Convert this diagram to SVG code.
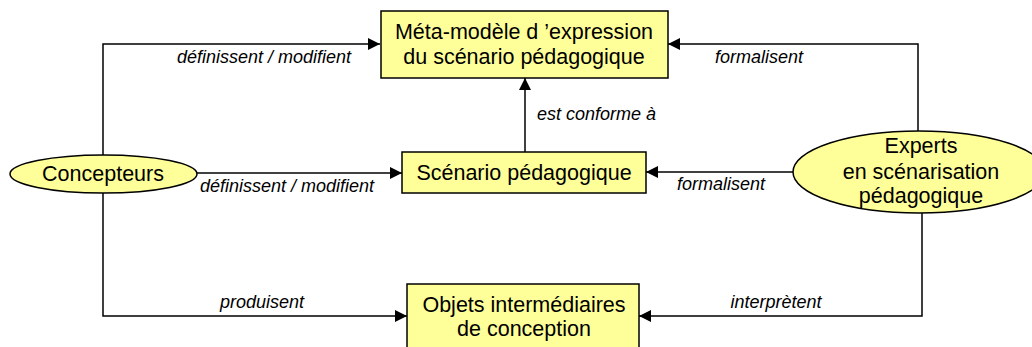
<svg xmlns="http://www.w3.org/2000/svg" width="1032" height="347" viewBox="0 0 1032 347">
<style>
.node{fill:#FFFF99;stroke:#000;stroke-width:1.5}
.t{font-family:"Liberation Sans",Arial,sans-serif;font-size:21.5px;fill:#000;text-anchor:middle}
.l{font-family:"Liberation Sans",Arial,sans-serif;font-size:18px;font-style:italic;fill:#000}
.c{fill:none;stroke:#000;stroke-width:1.5;marker-end:url(#arr)}
</style>
<defs>
<marker id="arr" viewBox="0 0 12 12" refX="12" refY="6" markerWidth="12" markerHeight="12" markerUnits="userSpaceOnUse" orient="auto">
<path d="M0,0 L12,6 L0,12 Z" fill="#000"/>
</marker>
</defs>
<rect width="1032" height="347" fill="#fff"/>
<g id="connectors">
<path class="c" d="M103,156 V44 H380"/>
<path class="c" d="M197,173 H402"/>
<path class="c" d="M103,193 V316 H407"/>
<path class="c" d="M918,132 V44 H668"/>
<path class="c" d="M793,172 H646"/>
<path class="c" d="M922,213 V316 H639"/>
<path class="c" d="M525,152 V78"/>
<text class="l" x="264" y="63" text-anchor="middle">définissent / modifient</text>
<text class="l" x="287" y="192" text-anchor="middle">définissent / modifient</text>
<text class="l" x="759" y="63" text-anchor="middle">formalisent</text>
<text class="l" x="721" y="190" text-anchor="middle">formalisent</text>
<text class="l" x="537" y="120">est conforme à</text>
<text class="l" x="262" y="308" text-anchor="middle">produisent</text>
<text class="l" x="776" y="308" text-anchor="middle">interprètent</text>
</g>
<g id="meta">
<rect class="node" x="381" y="11" width="287" height="67"/>
<text class="t" x="524" y="39">Méta-modèle d ’expression</text>
<text class="t" x="524" y="64">du scénario pédagogique</text>
</g>
<g id="scenario">
<rect class="node" x="402" y="152" width="244" height="41"/>
<text class="t" x="524" y="180">Scénario pédagogique</text>
</g>
<g id="objets">
<rect class="node" x="407" y="284" width="232" height="70"/>
<text class="t" x="524" y="312">Objets intermédiaires</text>
<text class="t" x="524" y="336">de conception</text>
</g>
<g id="concepteurs">
<ellipse class="node" cx="103.5" cy="174" rx="93.5" ry="19"/>
<text class="t" x="103" y="181">Concepteurs</text>
</g>
<g id="experts">
<ellipse class="node" cx="919" cy="172" rx="126" ry="41"/>
<text class="t" x="921" y="153">Experts</text>
<text class="t" x="921" y="179">en scénarisation</text>
<text class="t" x="921" y="203">pédagogique</text>
</g>
</svg>
